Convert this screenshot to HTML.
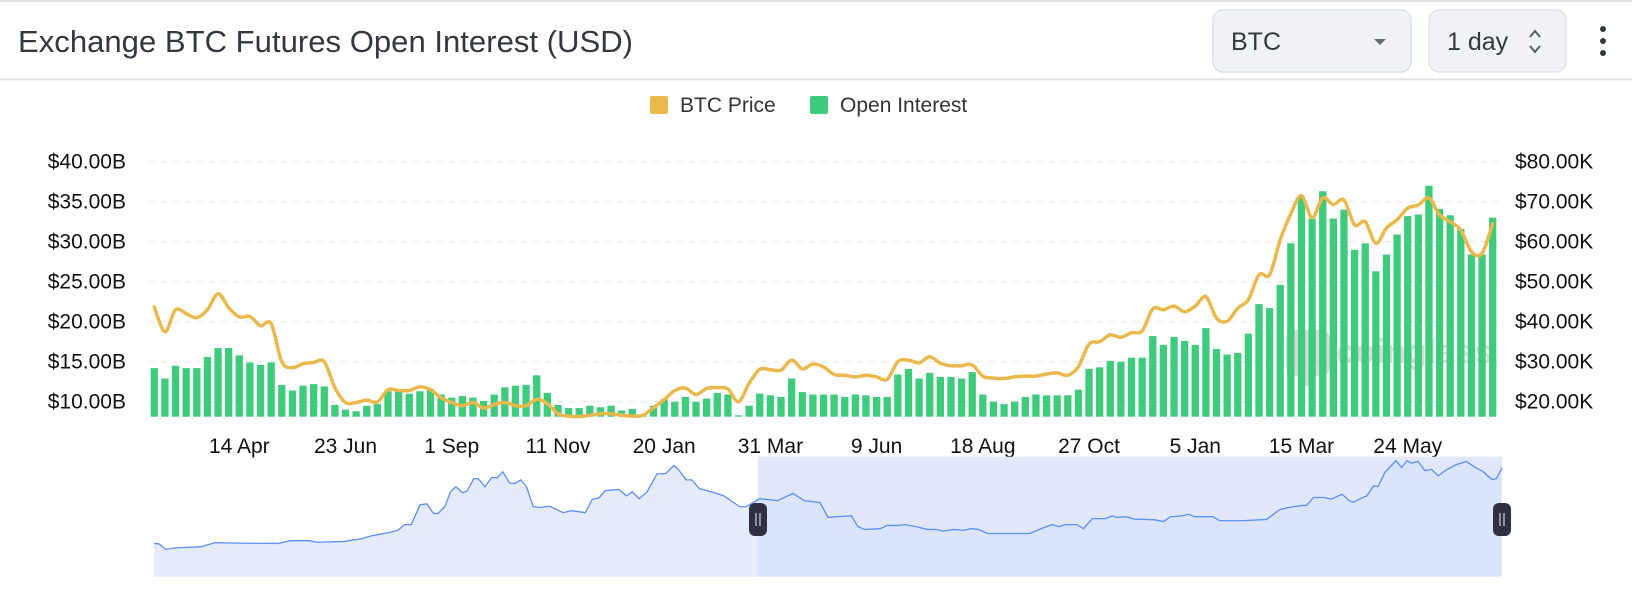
<!DOCTYPE html>
<html><head><meta charset="utf-8"><style>
html,body{margin:0;padding:0;background:#fff;width:1632px;height:606px;overflow:hidden}
svg{display:block;font-family:"Liberation Sans",sans-serif}
</style></head><body>
<svg id="chart" width="1632" height="606" viewBox="0 0 1632 606" xmlns="http://www.w3.org/2000/svg">
<line x1="0" y1="1" x2="1632" y2="1" stroke="#e3e3e3" stroke-width="2"/>
<line x1="0" y1="79.5" x2="1632" y2="79.5" stroke="#e0e0e0" stroke-width="2"/>
<text x="18" y="52" font-size="31" fill="#333840" textLength="615" lengthAdjust="spacingAndGlyphs">Exchange BTC Futures Open Interest (USD)</text>
<g>
<rect x="1213" y="10" width="198" height="62" rx="10" fill="#f0f2f5" stroke="#d8e3ec" stroke-width="1.5"/>
<text x="1231" y="50" font-size="25" fill="#333840">BTC</text>
<path d="M1374 39 L1386 39 L1380 45 Z" fill="#666b73"/>
</g>
<g>
<rect x="1429" y="10" width="137" height="62" rx="10" fill="#f0f2f5" stroke="#e2e4e8" stroke-width="1.5"/>
<text x="1447" y="50" font-size="25" fill="#333840">1 day</text>
<path d="M1530 37 L1535 31 L1540 37 M1530 46 L1535 52 L1540 46" fill="none" stroke="#555a62" stroke-width="2"/>
</g>
<g fill="#333840">
<circle cx="1603" cy="29" r="3"/><circle cx="1603" cy="41" r="3"/><circle cx="1603" cy="53" r="3"/>
</g>
<g>
<g><rect x="650" y="96" width="18" height="18" rx="2" fill="#ebb84b"/><text x="680" y="112" font-size="21" fill="#333">BTC Price</text></g>
<g><rect x="810" y="96" width="18" height="18" rx="2" fill="#3ecb7b"/><text x="840" y="112" font-size="21" fill="#333">Open Interest</text></g>
</g>
<g id="grid"></g>
<g id="yLeft"></g>
<g id="yRight"></g>
<g id="watermark" opacity="0.35">
<path d="M1286 340 q0 -10 10 -10 h24 q10 0 10 10 v26 q0 10 -10 10 h-6 v10 h-12 v-10 h-6 q-10 0 -10 -10 z" fill="#9a9a9a"/>
<text x="1336" y="363" font-size="34" font-weight="bold" fill="#9a9a9a">coinglass</text>
</g>
<g id="bars"></g>
<path id="priceLine" fill="none" stroke="#ebb84b" stroke-width="3.5" stroke-linejoin="round" stroke-linecap="round"/>
<g id="xAxis"></g>
<g id="slider"></g>
</svg>
<script>
const oiValues=[14.2,12.9,14.5,14.2,14.2,15.6,16.7,16.7,15.8,14.9,14.6,14.9,12.1,11.4,12.0,12.2,11.9,9.6,9.0,8.8,9.5,9.7,11.3,11.3,11.0,11.3,11.6,10.9,10.5,10.7,10.5,10.1,10.9,11.8,12.0,12.1,13.3,11.1,9.6,9.2,9.2,9.5,9.3,9.5,8.9,9.1,8.3,9.5,10.3,10.0,10.6,10.0,10.4,11.1,10.9,8.3,9.5,11.0,10.8,
10.6,12.9,11.2,10.9,10.9,10.9,10.6,10.9,10.8,10.6,10.6,13.4,14.1,12.9,13.6,13.1,13.1,12.9,13.7,10.9,10.0,9.7,10.0,10.6,10.9,10.8,10.8,10.8,11.5,14.1,14.3,15.1,15.0,15.5,15.5,18.2,17.1,18.1,17.6,17.1,19.2,16.6,15.9,16.1,18.5,22.2,21.7,24.6,29.8,35.6,32.9,36.3,32.9,34.0,29.0,29.8,26.3,28.4,30.9,33.2,33.4,37.0,34.1,33.3,31.6,28.4,28.4,33.0];
const priceValues=[43.7,37.5,43,42,41,43,47,43.5,41.2,41.3,39,39.5,30,28.5,29.5,29.8,30,23.5,19.8,19.8,20.4,19.9,23,22.8,22.8,23.7,23,21,19.8,19,19.8,18.4,19.3,19.8,19,19,20.6,19.5,17,16.4,16.3,16.6,17,17,16.6,16.4,16.6,18.5,20.5,22.8,23.4,21.8,23.3,23.5,23.2,20,24.6,28.1,28,
27.9,30.4,28.2,29.4,28.7,26.8,26.6,26.2,26.6,26.2,25.6,30,30.4,29.7,31.25,29.6,29,29,29.2,26.4,25.9,25.8,26.2,26.4,26.4,26.9,27.2,26.6,28.75,34.4,35,36.7,36.1,37.25,37.7,43.2,43,43.9,42.5,43.9,46.25,40.9,40.1,43.4,45.5,51.75,51.75,60.5,67,71.5,66,70.9,69.3,70.4,64.2,65,59.6,63.4,65.5,68.4,69.2,70.9,66.7,65,62.9,57.5,57.1,64.5];
const tickLabels=['14 Apr','23 Jun','1 Sep','11 Nov','20 Jan','31 Mar','9 Jun','18 Aug','27 Oct','5 Jan','15 Mar','24 May'];
const tickIndex=[8,18,28,38,48,58,68,78,88,98,108,118];
const leftTicks=[10,15,20,25,30,35,40];
const rightTicks=[20,30,40,50,60,70,80];
const ovT=[0,3.7,8.7,15.3,35.2,45.1,61.7,91.5,101.4,114.7,121.3,141.2,154.4,161,174.3,180.9,185.9,190.8,197.4,202.4,207.4,210.7,215.7,220,223.9,228.9,232.3,237.2,240.5,245.5,250.5,254.5,258.8,263.7,267.7,272,276.3,281.3,286.9,293.5,303.4,310.1,320,325,330,334.9,344.9,350.5,354.8,359.8,365.8,373.1,379.7,385.7,389.7,394.7,399,404.6,412.9,422.8,434.4,439.4,449.3,462.5,474.1,482.4,494.1,500,507.3,517.3,522.2,527.2,538.8,543.8,552,557,565.3,573.5,580.2,585.2,593.4,600.1,606.7,611.6,618.3,626.6,639.8,649.7,659.6,666.3,671.2,676.2,684.5,689.5,696.1,706,711,714.3,720.9,727.5,742.4,749.1,754,762.3,767.3,772.3,785.5,790.5,808.7,825.2,835.2,841.8,851.7,855.1,860,868.3,873.3,881.5,886.5,889.8,894.8,899.8,904.7,908,913,921.3,925.6,929.5,932.9,937.8,942.8,947.8,952.7,957.7,966,973.6,979.2,985.8,992.5,995.8,1000];
const ovV=[27.7,27.4,22.7,24,25,28.4,28,27.7,30,30,28.7,29.4,31.7,34,36.7,38.7,43.4,43.4,60,60.7,52.7,52.7,58.4,70.7,75,70,71.4,81.7,81.7,75,82.7,82.4,87.4,78,77.7,80.7,75,58.4,57.7,58.7,53.4,55,53.4,64.4,65.7,71.7,72.7,67.4,70.7,65,70.7,85.7,86,92.7,88.4,80.7,80.7,73.4,71,67.4,58.4,58.4,65,63.4,69.4,63.4,61.7,49.4,50,50.7,41.7,39.4,40,42.7,42.7,43.4,41.7,39.4,39.4,38,39.4,38.7,40,39.4,36,36,36,36,40.7,43.4,41.7,43.4,43.4,40,48.4,48.4,50.7,49.4,50,48,47.4,46,50,50.7,52,50,50,46.7,46.7,47.7,56,57.7,59.4,59.4,66,66,64.7,68.7,63.4,62,65,67.4,75.7,75,86.7,96.7,91,96.7,94.7,96,88.4,89.4,84,88.4,93.4,96,91.7,87.7,81,81.7,90.7];

const NS='http://www.w3.org/2000/svg';
function mk(tag,attrs,parent){const e=document.createElementNS(NS,tag);for(const k in attrs)e.setAttribute(k,attrs[k]);parent.appendChild(e);return e;}
const plotL=149,plotR=1498,baseY=416.7;
const band=(plotR-plotL)/oiValues.length;
const xC=i=>plotL+band*(i+0.5);
const yOI=v=>161.7+(40-v)*8;
const yP=p=>161.7+(80-p)*4;

const grid=document.getElementById('grid');
leftTicks.forEach(v=>{const l=mk('line',{x1:plotL,x2:plotR,y1:yOI(v),y2:yOI(v),stroke:'#ececec','stroke-width':1.5,'stroke-dasharray':'6 6'},grid);

});
const yl=document.getElementById('yLeft');
leftTicks.forEach(v=>{const t=mk('text',{x:126,y:yOI(v)+7,'text-anchor':'end','font-size':21,fill:'#111'},yl);t.textContent='$'+v.toFixed(2)+'B';

});
const yr=document.getElementById('yRight');
rightTicks.forEach(v=>{const t=mk('text',{x:1515,y:yP(v)+7,'font-size':21,fill:'#111'},yr);t.textContent='$'+v.toFixed(2)+'K';

});

const bars=document.getElementById('bars');
oiValues.forEach((v,i)=>{const y=yOI(v);const r=mk('rect',{x:xC(i)-3.65,y:y,width:7.3,height:Math.max(1,baseY-y),fill:'#3ecb7b'},bars);

});

const pts=priceValues.map((p,i)=>[xC(i),yP(p)]);
let d='M'+pts[0][0]+' '+pts[0][1];
for(let i=0;i<pts.length-1;i++){const p0=pts[Math.max(0,i-1)],p1=pts[i],p2=pts[i+1],p3=pts[Math.min(pts.length-1,i+2)];
const c1=[p1[0]+(p2[0]-p0[0])/6,p1[1]+(p2[1]-p0[1])/6],c2=[p2[0]-(p3[0]-p1[0])/6,p2[1]-(p3[1]-p1[1])/6];
d+=` C${c1[0]} ${c1[1]} ${c2[0]} ${c2[1]} ${p2[0]} ${p2[1]}`;}
document.getElementById('priceLine').setAttribute('d',d);

const xa=document.getElementById('xAxis');
tickLabels.forEach((s,i)=>{const t=mk('text',{x:xC(tickIndex[i]),y:453,'text-anchor':'middle','font-size':21,fill:'#111'},xa);t.textContent=s;

});

// slider
const sl=document.getElementById('slider');
const sL=154,sR=1502,sTop=456.7,sBot=576.7,selL=758;
const ox=t=>sL+(sR-sL)*t/1000;
const oy=v=>sBot-v*1.2;
mk('rect',{x:selL,y:sTop,width:sR-selL,height:sBot-sTop,fill:'#eef2fd'},sl);
let ld='';ovT.forEach((t,i)=>{ld+=(i?'L':'M')+ox(t)+' '+oy(ovV[i]);});
const area=mk('path',{d:ld+`L${sR} ${sBot}L${sL} ${sBot}Z`,fill:'#e4ebfb'},sl);


mk('rect',{x:selL,y:sTop,width:sR-selL,height:sBot-sTop,fill:'#c9d7f8',opacity:0.35},sl);
const ol=mk('path',{d:ld,fill:'none',stroke:'#5b8ff9','stroke-width':1.3},sl);


[selL,sR].forEach((hx,i)=>{const g=mk('g',{},sl);


mk('rect',{x:hx-9,y:503,width:18,height:33,rx:6,fill:'#2f3140'},g);
mk('line',{x1:hx-2,x2:hx-2,y1:513,y2:526,stroke:'#aab0c0','stroke-width':1.5},g);
mk('line',{x1:hx+2,x2:hx+2,y1:513,y2:526,stroke:'#aab0c0','stroke-width':1.5},g);});
</script>
</body></html>
